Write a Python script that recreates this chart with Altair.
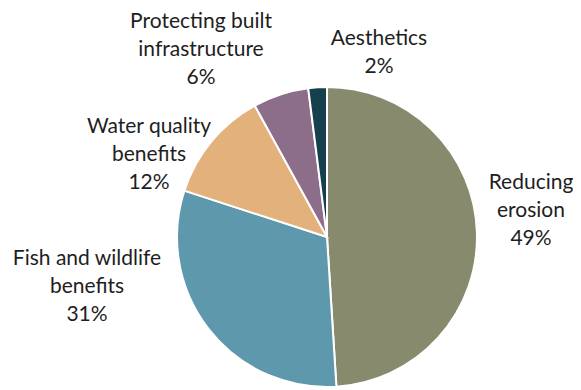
import altair as alt
import pandas as pd

categories = ["Reducing erosion", "Fish and wildlife benefits", "Water quality benefits",
              "Protecting built infrastructure", "Aesthetics"]
values = [49, 31, 12, 6, 2]
label_lines = [["Reducing", "erosion", "49%"],
               ["Fish and wildlife", "benefits", "31%"],
               ["Water quality", "benefits", "12%"],
               ["Protecting built", "infrastructure", "6%"],
               ["Aesthetics", "2%"]]
colors = ["#878a6c", "#5e98ac", "#e3b17b", "#8c6e8b", "#17404f"]

# layout (pixels)
W, H = 565, 380
CX, CY, R = 319, 229, 150
LH = 28
label_dx = [204, -240, -178, -126, 52]
label_dy = [-26, 50, -82, -187, -184]

df = pd.DataFrame({"cat": categories, "val": values, "idx": range(len(values))})
lab = pd.DataFrame({
    "cat": categories,
    "txt": ["\n".join(l) for l in label_lines],
    "lx": [CX + d for d in label_dx],
    "ly": [CY + d - (len(l) - 1) * LH / 2 for d, l in zip(label_dy, label_lines)],
})

pie = alt.Chart(df).mark_arc(outerRadius=R, stroke="white", strokeWidth=2).encode(
    theta=alt.Theta("val:Q", stack=True),
    order=alt.Order("idx:Q"),
    color=alt.Color("cat:N", scale=alt.Scale(domain=categories, range=colors), legend=None),
    x=alt.value(CX),
    y=alt.value(CY),
)

text = alt.Chart(lab).mark_text(
    font="Lato", fontSize=21, lineBreak="\n", lineHeight=LH,
    align="center", baseline="middle", color="#1e1e1e"
).encode(
    x=alt.X("lx:Q", scale=None),
    y=alt.Y("ly:Q", scale=None),
    text="txt:N",
)

chart = alt.layer(pie, text).properties(
    width=W, height=H, padding=0, autosize=alt.AutoSizeParams(type="none")
).configure_view(stroke=None)

chart.save("out.html", embed_options={"renderer": "svg", "actions": False})
